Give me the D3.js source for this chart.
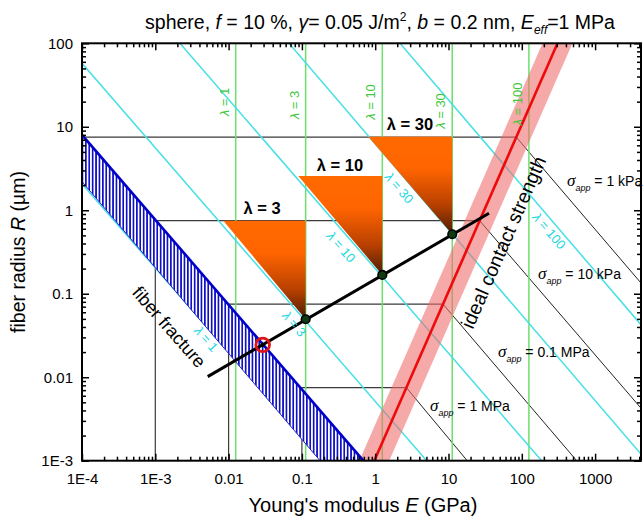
<!DOCTYPE html>
<html><head><meta charset="utf-8">
<script src="https://cdn.jsdelivr.net/npm/d3@7"></script>
<style>
body{margin:0;background:#fff}
text{font-family:Arial,"Liberation Sans",sans-serif}
</style>
</head><body>
<svg id="chart" width="644" height="520"></svg>
<script>
// ---------------- data ----------------
const xDomain = [1e-4, 4230];
const yDomain = [1e-3, 100];
const xTickValues = [1e-4, 1e-3, 1e-2, 1e-1, 1, 10, 100, 1000];
const xTickLabels = ["1E-4", "1E-3", "0.01", "0.1", "1", "10", "100", "1000"];
const yTickValues = [1e-3, 1e-2, 1e-1, 1, 10, 100];
const yTickLabels = ["1E-3", "0.01", "0.1", "1", "10", "100"];

const lambdas = [1, 3, 10, 30, 100];
const greenE = [0.0125, 0.1125, 1.25, 11.25, 125];          // vertical λ lines (GPa)
const cyanLines = [                                          // [E, R] end points per λ
  [[1e-4, 2.07], [0.196, 1e-3]],
  [[1e-4, 57.6], [5.04, 1e-3]],
  [[0.00217, 100], [186.8, 1e-3]],
  [[0.0667, 100], [5049, 1e-3]],
  [[2.18, 100], [1.64e5, 1e-3]]
];

const triLambda = [3, 10, 30];
const triTopR = [0.75, 2.58, 7.6];
const triLeftE = [0.00847, 0.0893, 0.805];
const triRightE = [0.1125, 1.25, 11.25];
const dotE = [0.1125, 1.25, 11.25];
const dotR = [0.0495, 0.168, 0.516];

const fractureLine = [[0.00519, 0.01016], [35.7, 0.92]];
const criticalPoint = [0.0292, 0.0244];

const fiberBandUpper = [[1e-4, 7.98], [0.69, 1e-3]];
const fiberBandLower = [[1e-4, 2.2], [0.177, 1e-3]];

const contactLine = [[0.972, 1e-3], [307, 100]];
const contactBand = [[0.6075, 1e-3], [192, 100], [491, 100], [1.555, 1e-3]];

const sigmaLabels = ["1 kPa", "10 kPa", "0.1 MPa", "1 MPa"];
const stairE = [1e-4, 1e-3, 0.01, 0.1];
const stairR = [7.5, 0.75, 0.075, 0.0075];
const stairRedE = [84.2, 26.6, 8.42, 2.66];
const sigmaEndE = [5.0e5, 1.75e4, 561, 18];

// ---------------- layout ----------------
const svg = d3.select("#chart");
const L = 82, R = 641, T = 43.3, B = 460.7;
const x = d3.scaleLog().domain(xDomain).range([L, R]);
const y = d3.scaleLog().domain(yDomain).range([B, T]);
const line = d3.line().x(d => x(d[0])).y(d => y(d[1]));

const defs = svg.append("defs");
defs.append("clipPath").attr("id", "plotclip")
  .append("rect").attr("x", L).attr("y", T).attr("width", R - L).attr("height", B - T);
const hatch = defs.append("pattern").attr("id", "hatch")
  .attr("patternUnits", "userSpaceOnUse").attr("width", 3.4).attr("height", 10);
hatch.append("rect").attr("width", 3.4).attr("height", 10).attr("fill", "#fff");
hatch.append("rect").attr("x", 0).attr("width", 1.7).attr("height", 10).attr("fill", "#1010c4");
const grad = defs.append("linearGradient").attr("id", "trigrad")
  .attr("x1", 0).attr("y1", 0).attr("x2", 0).attr("y2", 1);
grad.append("stop").attr("offset", "0").attr("stop-color", "#ff6a00");
grad.append("stop").attr("offset", "0.33").attr("stop-color", "#ff6400");
grad.append("stop").attr("offset", "0.7").attr("stop-color", "#b84000");
grad.append("stop").attr("offset", "1").attr("stop-color", "#4a1c05");

const g = svg.append("g").attr("clip-path", "url(#plotclip)");

// stair-step grey lines + sigma diagonals
stairE.forEach((e, i) => {
  g.append("path").attr("d", line([[e, 1e-3], [e, stairR[i]], [stairRedE[i], stairR[i]]]))
    .attr("fill", "none").attr("stroke", "#3a3a3a").attr("stroke-width", 1.2);
  g.append("path").attr("d", line([[stairRedE[i], stairR[i]], [sigmaEndE[i], 1e-3]]))
    .attr("fill", "none").attr("stroke", "#222").attr("stroke-width", 1);
});

// green vertical λ lines
greenE.forEach(e => {
  g.append("line").attr("x1", x(e)).attr("x2", x(e)).attr("y1", T).attr("y2", B)
    .attr("stroke", "#6ede6e").attr("stroke-width", 1.5);
});

// cyan λ lines
cyanLines.forEach(pts => {
  g.append("path").attr("d", line(pts)).attr("fill", "none")
    .attr("stroke", "#45e0e6").attr("stroke-width", 1.5);
});

// pink ideal contact band
g.append("path").attr("d", line(contactBand) + "Z")
  .attr("fill", "#f06a6a").attr("fill-opacity", 0.58);

// blue hatched fiber fracture band
const bandPoly = [fiberBandUpper[0], fiberBandUpper[1], fiberBandLower[1], fiberBandLower[0]];
g.append("path").attr("d", line(bandPoly) + "Z").attr("fill", "url(#hatch)");
g.append("path").attr("d", line(fiberBandLower)).attr("fill", "none")
  .attr("stroke", "#2828c8").attr("stroke-width", 1);
g.append("path").attr("d", line(fiberBandUpper)).attr("fill", "none")
  .attr("stroke", "#0000c8").attr("stroke-width", 2.6);

// triangles
triLambda.forEach((l, i) => {
  const pts = [[triLeftE[i], triTopR[i]], [triRightE[i], triTopR[i]], [dotE[i], dotR[i]]];
  g.append("path").attr("d", line(pts) + "Z").attr("fill", "url(#trigrad)");
});

// red contact line
g.append("path").attr("d", line(contactLine)).attr("fill", "none")
  .attr("stroke", "#ee0a0a").attr("stroke-width", 2.6);

// black fracture line
g.append("path").attr("d", line(fractureLine)).attr("fill", "none")
  .attr("stroke", "#000").attr("stroke-width", 3);

// dots
dotE.forEach((e, i) => {
  g.append("circle").attr("cx", x(e)).attr("cy", y(dotR[i])).attr("r", 4.3)
    .attr("fill", "#123a12").attr("stroke", "#000").attr("stroke-width", 1.6);
});
g.append("circle").attr("cx", x(criticalPoint[0])).attr("cy", y(criticalPoint[1])).attr("r", 2.2)
  .attr("fill", "#000");
g.append("circle").attr("cx", x(criticalPoint[0])).attr("cy", y(criticalPoint[1])).attr("r", 6.8)
  .attr("fill", "none").attr("stroke", "#e01414").attr("stroke-width", 2.8);

// ---------------- labels ----------------
// green λ labels (vertical)
const greenLabelY = [102, 105, 102, 111, 104];
lambdas.forEach((l, i) => {
  const cx = x(greenE[i]) - 10, cy = greenLabelY[i];
  const t = svg.append("text").attr("transform", `translate(${cx},${cy}) rotate(-90)`)
    .attr("text-anchor", "middle").attr("dominant-baseline", "middle")
    .attr("font-size", 13).attr("fill", "#3cc83c");
  t.append("tspan").attr("font-style", "italic").text("λ");
  t.append("tspan").text(` = ${l}`);
});
// cyan λ labels (diagonal)
const cyanLabelPos = [[205, 340], [293, 325], [340, 248], [398, 189], [548, 232]];
lambdas.forEach((l, i) => {
  const [cx, cy] = cyanLabelPos[i];
  const t = svg.append("text").attr("transform", `translate(${cx},${cy}) rotate(49)`)
    .attr("text-anchor", "middle").attr("dominant-baseline", "middle")
    .attr("font-size", 13).attr("fill", "#22d8e0");
  t.append("tspan").attr("font-style", "italic").text("λ");
  t.append("tspan").text(` = ${l}`);
});
// triangle labels
const triLabelPos = [[262, 210], [340, 167], [410, 126]];
triLambda.forEach((l, i) => {
  const [cx, cy] = triLabelPos[i];
  svg.append("text").attr("x", cx).attr("y", cy)
    .attr("text-anchor", "middle").attr("dominant-baseline", "middle")
    .attr("font-family", "'Liberation Serif','Times New Roman',serif")
    .attr("font-weight", "bold").attr("font-size", 16.5).attr("fill", "#000")
    .text(`λ = ${l}`);
});
// sigma labels
const sigmaPos = [[567, 186], [538, 279], [498, 357], [430, 411]];
sigmaLabels.forEach((s, i) => {
  const [sx, sy] = sigmaPos[i];
  const t = svg.append("text").attr("x", sx).attr("y", sy).attr("font-size", 14).attr("fill", "#000");
  t.append("tspan").attr("font-family", "'Liberation Serif','Times New Roman',serif")
    .attr("font-style", "italic").attr("font-size", 17).text("σ");
  t.append("tspan").attr("font-style", "italic").attr("font-size", 9).attr("dy", 5).text("app");
  t.append("tspan").attr("dy", -5).text(" = " + s);
});
// fiber fracture
svg.append("text").attr("transform", "translate(168,328) rotate(48.8)")
  .attr("text-anchor", "middle").attr("dominant-baseline", "middle")
  .attr("font-size", 18).attr("fill", "#000").text("fiber fracture");
// ideal contact strength
svg.append("text").attr("transform", "translate(505,243) rotate(-66.5)")
  .attr("text-anchor", "middle").attr("dominant-baseline", "middle")
  .attr("font-size", 19.5).attr("fill", "#000").text("ideal contact strength");

// ---------------- axes ----------------
function minorTicks(dom) {
  const out = [];
  const lo = Math.floor(Math.log10(dom[0])), hi = Math.ceil(Math.log10(dom[1]));
  for (let k = lo; k < hi; k++) for (let m = 2; m <= 9; m++) {
    const v = m * Math.pow(10, k);
    if (v > dom[0] && v < dom[1]) out.push(v);
  }
  return out;
}
const xMinor = minorTicks(xDomain), yMinor = minorTicks(yDomain);
const styleAxis = sel => {
  sel.select(".domain").remove();
  sel.selectAll(".tick line").attr("stroke", "#000").attr("stroke-width", 1.5);
};
// bottom
svg.append("g").attr("transform", `translate(0,${B})`)
  .call(d3.axisBottom(x).tickValues(xTickValues).tickFormat((d, i) => xTickLabels[i])
    .tickSizeInner(-7).tickSizeOuter(0).tickPadding(13))
  .call(styleAxis)
  .selectAll("text").attr("font-size", 15).attr("font-family", "Arial,'Liberation Sans',sans-serif").attr("fill", "#000");
svg.append("g").attr("transform", `translate(0,${B})`)
  .call(d3.axisBottom(x).tickValues(xMinor).tickFormat("").tickSizeInner(-4).tickSizeOuter(0))
  .call(styleAxis);
// top
svg.append("g").attr("transform", `translate(0,${T})`)
  .call(d3.axisTop(x).tickValues(xTickValues).tickFormat("").tickSizeInner(-7).tickSizeOuter(0))
  .call(styleAxis);
svg.append("g").attr("transform", `translate(0,${T})`)
  .call(d3.axisTop(x).tickValues(xMinor).tickFormat("").tickSizeInner(-4).tickSizeOuter(0))
  .call(styleAxis);
// left
svg.append("g").attr("transform", `translate(${L},0)`)
  .call(d3.axisLeft(y).tickValues(yTickValues).tickFormat((d, i) => yTickLabels[i])
    .tickSizeInner(-7).tickSizeOuter(0).tickPadding(9))
  .call(styleAxis)
  .selectAll("text").attr("font-size", 15).attr("font-family", "Arial,'Liberation Sans',sans-serif").attr("fill", "#000");
svg.append("g").attr("transform", `translate(${L},0)`)
  .call(d3.axisLeft(y).tickValues(yMinor).tickFormat("").tickSizeInner(-4).tickSizeOuter(0))
  .call(styleAxis);
// right
svg.append("g").attr("transform", `translate(${R},0)`)
  .call(d3.axisRight(y).tickValues(yTickValues).tickFormat("").tickSizeInner(-7).tickSizeOuter(0))
  .call(styleAxis);
svg.append("g").attr("transform", `translate(${R},0)`)
  .call(d3.axisRight(y).tickValues(yMinor).tickFormat("").tickSizeInner(-4).tickSizeOuter(0))
  .call(styleAxis);
// frame
svg.append("rect").attr("x", L).attr("y", T).attr("width", R - L).attr("height", B - T)
  .attr("fill", "none").attr("stroke", "#000").attr("stroke-width", 2);

// titles
const title = svg.append("text").attr("x", 380).attr("y", 29).attr("text-anchor", "middle")
  .attr("font-size", 19.5).attr("fill", "#000");
title.append("tspan").text("sphere, ");
title.append("tspan").attr("font-style", "italic").text("f");
title.append("tspan").text(" = 10 %, ");
title.append("tspan").attr("font-style", "italic").text("γ");
title.append("tspan").text("= 0.05 J/m");
title.append("tspan").attr("font-size", 12).attr("dy", -8).text("2");
title.append("tspan").attr("dy", 8).text(", ");
title.append("tspan").attr("font-style", "italic").text("b");
title.append("tspan").text(" = 0.2 nm, ");
title.append("tspan").attr("font-style", "italic").text("E");
title.append("tspan").attr("font-style", "italic").attr("font-size", 12).attr("dy", 5).text("eff");
title.append("tspan").attr("dy", -5).text("=1 MPa");

const xt = svg.append("text").attr("x", 363).attr("y", 512).attr("text-anchor", "middle")
  .attr("font-size", 20).attr("fill", "#000");
xt.append("tspan").text("Young's modulus ");
xt.append("tspan").attr("font-style", "italic").text("E");
xt.append("tspan").text(" (GPa)");

const yt = svg.append("text").attr("transform", "translate(25,252) rotate(-90)")
  .attr("text-anchor", "middle").attr("font-size", 19.5).attr("fill", "#000");
yt.append("tspan").text("fiber radius ");
yt.append("tspan").attr("font-style", "italic").text("R");
yt.append("tspan").text(" (µm)");
</script>
</body></html>
